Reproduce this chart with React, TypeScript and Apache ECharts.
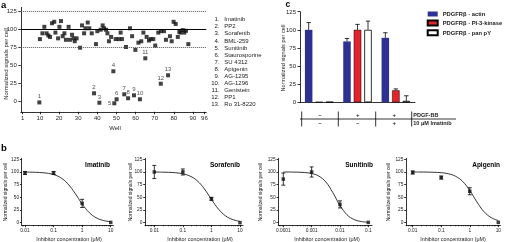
import React, { useEffect, useRef } from 'react';
import * as echarts from 'echarts';

const FONT = 'Liberation Sans, Arial, sans-serif';

// ---------- Panel a: screen ----------
const screenWells = [10, 11.3, 12.3, 13.5, 14.4, 15.3, 16.3, 17.5, 18.1, 19.5, 20.2, 21.0, 21.9, 22.8, 23.6, 25.0, 25.7, 26.8, 27.6, 28.2, 29.2, 31.0, 32.0, 33.1, 33.8, 35.0, 35.8, 37.1, 39.3, 40.0, 41.8, 42.8, 43.5, 44.6, 45.3, 46.1, 47.2, 49.6, 51.2, 52.2, 52.9, 55.0, 57.1, 58.2, 59.9, 61.5, 63.0, 64.1, 65.8, 67.0, 67.9, 69.3, 70.3, 71.9, 73.3, 74.9, 75.9, 78.0, 78.9, 79.9, 81.0, 82.1, 82.9, 83.6, 84.7, 85.5, 86.4, 87.6];
const screenValues = [86, 94, 103, 94, 91, 89, 108, 110, 95, 87, 103, 111, 90, 94, 85, 103, 85, 92, 87, 83, 87, 74, 105, 94, 101, 109, 101, 94, 79, 97, 99, 105, 101, 99, 94, 83, 89, 86, 86, 95, 86, 75, 101, 90, 71, 81, 83, 95, 89, 84, 86, 86, 77, 95, 97, 97, 85, 90, 83, 110, 107, 89, 96, 95, 98.5, 95, 97.5, 79];
const hitWells = [9.7, 38.3, 41.1, 48.4, 48.9, 50.1, 54.1, 56.1, 59.2, 62.3, 65.1, 73.2, 77.0];
const hitValues = [-2, 10.7, -2.4, 41.3, -3.2, 2.4, 9.3, 3.8, 7.9, 2.4, 59.3, 24, 35.7];
const hitLabels = ['1', '2', '3', '4', '5', '6', '7', '8', '9', '10', '11', '12', '13'];
const inhibitorNames = ['Imatinib', 'PP2', 'Sorafenib', 'BML-259', 'Sunitinib', 'Staurosporine', 'SU 4312', 'Apigenin', 'AG-1295', 'AG-1296', 'Genistein', 'PP1', 'Ro 31-8220'];
const wellTicks = [1, 10, 20, 30, 40, 50, 60, 70, 80, 90, 96];
const signalTicks = [0, 25, 50, 75, 100, 125];
const refLines = [100, 125, 75];

// ---------- Panel c: bars ----------
const conditions = ['none', 'PDGF-BB', 'PDGF-BB + Imatinib'];
const seriesNames = ['PDGFRβ - actin', 'PDGFRβ - PI-3-kinase', 'PDGFRβ - pan pY'];
const actinValues = [100, 84, 89];
const actinErr = [10, 4, 7];
const pi3kValues = [0.5, 100, 16.5];
const pi3kErr = [0, 7.5, 2];
const panPYValues = [0.5, 100, 2];
const panPYErr = [0, 12, 7];
const pdgfRow = ['–', '+', '+'];
const imatinibRow = ['–', '–', '+'];
const rowNames = ['PDGF-BB', '10 μM Imatinib'];

// ---------- Panel b: dose response ----------
const drugs = ['Imatinib', 'Sorafenib', 'Sunitinib', 'Apigenin'];
const concStd = [0.01, 0.1, 1, 10];
const concSun = [0.0001, 0.001, 0.01, 0.1];
const imaMeans = [98, 98, 38, 0.5];
const imaErr = [3, 3, 8, 0];
const sorMeans = [100, 100, 47, 0];
const sorErr = [13, 6, 3, 0];
const sunMeans = [86, 100, 36, 0.5];
const sunErr = [12, 10, 7, 0];
const apiMeans = [99, 89, 62, 0.5];
const apiErr = [3, 3, 7, 0];
const curveLogStd = [-2, -1.75, -1.5, -1.25, -1, -0.75, -0.5, -0.25, 0, 0.25, 0.5, 0.75, 1];
const curveLogSun = [-4, -3.75, -3.5, -3.25, -3, -2.75, -2.5, -2.25, -2, -1.75, -1.5, -1.25, -1];
const imaCurve = [99.8, 99.6, 99.0, 97.8, 94.9, 88.7, 76.7, 58.2, 36.9, 19.8, 9.4, 4.2, 1.8];
const sorCurve = [99.9, 99.7, 99.3, 98.5, 96.4, 91.9, 82.8, 66.9, 46.0, 26.5, 13.2, 6.0, 2.6];
const sunCurve = [100, 99.9, 99.6, 98.9, 97.0, 92.0, 80.4, 59.2, 34.0, 15.5, 6.1, 2.3, 0.8];
const apiCurve = [100, 99.9, 99.8, 99.4, 98.6, 96.5, 91.6, 81.4, 63.5, 40.9, 21.6, 9.9, 4.2];
const tickLabelsStd = ['0.01', '0.1', '1', '10'];
const tickLabelsSun = ['0.0001', '0.001', '0.01', '0.1'];

const BLACK = '#111';
const TXT = '#222';

function buildOption() {
  const axLine = { show: true, onZero: false, lineStyle: { color: '#000', width: 0.8 } };
  const noSplit = { show: false };

  const bLayout = [
    { left: 21.7, width: 91.6, min: -2.115, max: 1.09, ticks: tickLabelsStd, conc: concStd, means: imaMeans, err: imaErr, curveX: curveLogStd, curve: imaCurve, titleX: 110, yTitleX: 5, xTitleX: 69 },
    { left: 145, width: 98, min: -2.326, max: 1.105, ticks: tickLabelsStd, conc: concStd, means: sorMeans, err: sorErr, curveX: curveLogStd, curve: sorCurve, titleX: 240, yTitleX: 130, xTitleX: 200 },
    { left: 278.3, width: 93.7, min: -4.176, max: -0.87, ticks: tickLabelsSun, conc: concSun, means: sunMeans, err: sunErr, curveX: curveLogSun, curve: sunCurve, titleX: 373, yTitleX: 260, xTitleX: 327 },
    { left: 406, width: 94.5, min: -2.235, max: 1.077, ticks: tickLabelsStd, conc: concStd, means: apiMeans, err: apiErr, curveX: curveLogStd, curve: apiCurve, titleX: 500, yTitleX: 388, xTitleX: 453 },
  ];

  const grids: any[] = [
    { left: 20.8, top: 7.4, width: 185.5, height: 104.4, outerBoundsMode: 'none' },
    { left: 300, top: 11.7, width: 115, height: 90.6, outerBoundsMode: 'none' },
  ];
  bLayout.forEach((b) => grids.push({ left: b.left, top: 158.3, width: b.width, height: 66.9, outerBoundsMode: 'none' }));

  const xAxes: any[] = [
    {
      gridIndex: 0, type: 'value', min: 0, max: 97, position: 'bottom', axisLine: axLine, splitLine: noSplit,
      axisTick: { show: true, customValues: wellTicks, length: 2.5, lineStyle: { color: '#000', width: 0.8 } },
      axisLabel: { customValues: wellTicks, fontSize: 6, margin: 3, color: TXT, fontFamily: FONT },
    },
    {
      gridIndex: 1, type: 'category', data: conditions, position: 'bottom', axisLine: axLine,
      axisTick: { show: false }, axisLabel: { show: false }, splitLine: noSplit,
    },
  ];
  const yAxes: any[] = [
    {
      gridIndex: 0, type: 'value', min: -15, max: 130, axisLine: axLine, splitLine: noSplit,
      axisTick: { show: true, customValues: signalTicks, length: 2.5, lineStyle: { color: '#000', width: 0.8 } },
      axisLabel: { customValues: signalTicks, fontSize: 6, margin: 4, color: TXT, fontFamily: FONT },
    },
    {
      gridIndex: 1, type: 'value', min: 0, max: 125, interval: 25, axisLine: axLine, splitLine: noSplit,
      axisTick: { show: true, length: 2.5, lineStyle: { color: '#000', width: 0.8 } },
      axisLabel: { fontSize: 6, margin: 4, color: TXT, fontFamily: FONT },
    },
  ];

  const minorsList: number[][] = [];
  bLayout.forEach((b, i) => {
    const startDecade = Math.ceil(b.min);
    const majors = b.ticks.map((_, k) => startDecade + k);
    const minors: number[] = [];
    for (let d = Math.floor(b.min); d < b.max; d++) {
      for (let m = 2; m <= 9; m++) {
        const v = d + Math.log10(m);
        if (v > b.min && v < b.max) minors.push(v);
      }
    }
    minorsList.push(minors);
    xAxes.push({
      gridIndex: 2 + i, type: 'value', min: b.min, max: b.max, position: 'bottom', axisLine: axLine, splitLine: noSplit,
      axisTick: { show: true, customValues: majors, length: 2, lineStyle: { color: '#000', width: 0.8 } },
      axisLabel: {
        customValues: majors, fontSize: 4.8, margin: 2.5, color: TXT, fontFamily: FONT,
        formatter: (v: number) => b.ticks[Math.round(v - startDecade)] ?? '',
      },
    });
    yAxes.push({
      gridIndex: 2 + i, type: 'value', min: -5, max: 127, axisLine: axLine, splitLine: noSplit,
      axisTick: { show: true, customValues: signalTicks, length: 1.8, lineStyle: { color: '#000', width: 0.8 } },
      axisLabel: { customValues: signalTicks, fontSize: 4.8, margin: 2.6, color: TXT, fontFamily: FONT },
    });
  });
  bLayout.forEach((b, i) => {
    xAxes.push({
      gridIndex: 2 + i, type: 'value', min: b.min, max: b.max, position: 'bottom',
      axisLine: { show: false, onZero: false }, splitLine: noSplit,
      axisTick: { show: true, customValues: minorsList[i], length: 1.1, lineStyle: { color: '#000', width: 0.6 } },
      axisLabel: { show: false },
    });
  });

  const lineStyleErr = { stroke: '#000', lineWidth: 0.8 };
  const errRender = (capHalf: number) => (_p: any, api: any) => {
    const x = api.value(0), y = api.value(1), e = api.value(2);
    const lo = api.coord([x, y - e]);
    const hi = api.coord([x, y + e]);
    return {
      type: 'group',
      children: [
        { type: 'line', shape: { x1: lo[0], y1: lo[1], x2: hi[0], y2: hi[1] }, style: lineStyleErr },
        { type: 'line', shape: { x1: lo[0] - capHalf, y1: lo[1], x2: lo[0] + capHalf, y2: lo[1] }, style: lineStyleErr },
        { type: 'line', shape: { x1: hi[0] - capHalf, y1: hi[1], x2: hi[0] + capHalf, y2: hi[1] }, style: lineStyleErr },
      ],
    };
  };

  const BAR_STEP = 10.5;
  const barErrRender = (_p: any, api: any) => {
    const cat = api.value(0), y = api.value(1), e = api.value(2), k = api.value(3);
    const base = api.coord([cat, y]);
    const top = api.coord([cat, y + e]);
    const x = base[0] + (k - 1) * BAR_STEP;
    return {
      type: 'group',
      children: [
        { type: 'line', shape: { x1: x, y1: base[1], x2: x, y2: top[1] }, style: lineStyleErr },
        { type: 'line', shape: { x1: x - 2.2, y1: top[1], x2: x + 2.2, y2: top[1] }, style: lineStyleErr },
      ],
    };
  };

  const barErrData: number[][] = [];
  [actinErr, pi3kErr, panPYErr].forEach((errs, k) => {
    const vals = [actinValues, pi3kValues, panPYValues][k];
    errs.forEach((e, c) => { if (e > 0) barErrData.push([c, vals[c], e, k]); });
  });

  const series: any[] = [
    {
      type: 'scatter', xAxisIndex: 0, yAxisIndex: 0, symbol: 'rect', symbolSize: 4,
      itemStyle: { color: BLACK },
      data: screenWells.map((w, i) => [w, screenValues[i]]),
      markLine: {
        silent: true, symbol: 'none', label: { show: false },
        data: refLines.map((v) => ({
          yAxis: v,
          lineStyle: v === 100 ? { color: '#000', width: 1, type: 'solid' } : { color: '#555', width: 1, type: 'dotted' },
        })),
      },
    },
    {
      type: 'scatter', xAxisIndex: 0, yAxisIndex: 0, symbol: 'rect', symbolSize: 4,
      itemStyle: { color: BLACK },
      data: hitWells.map((w, i) => ({
        value: [w, hitValues[i]],
        label: i === 4 ? { position: 'left', distance: 1 } : undefined,
      })),
      label: {
        show: true, position: 'top', distance: 1, fontSize: 6, color: TXT, fontFamily: FONT,
        formatter: (p: any) => hitLabels[p.dataIndex],
      },
    },
    {
      name: seriesNames[0], type: 'bar', xAxisIndex: 1, yAxisIndex: 1, barWidth: 7.5, barGap: '40%',
      itemStyle: { color: '#2e3192' }, data: actinValues,
    },
    {
      name: seriesNames[1], type: 'bar', xAxisIndex: 1, yAxisIndex: 1, barWidth: 7.5, barGap: '40%',
      itemStyle: { color: '#e3242b', borderColor: '#000', borderWidth: 0.5 }, data: pi3kValues,
    },
    {
      name: seriesNames[2], type: 'bar', xAxisIndex: 1, yAxisIndex: 1, barWidth: 7.5, barGap: '40%',
      itemStyle: { color: '#ffffff', borderColor: '#000', borderWidth: 0.8 }, data: panPYValues,
    },
    {
      type: 'custom', xAxisIndex: 1, yAxisIndex: 1, renderItem: barErrRender,
      encode: { x: 0, y: 1 }, data: barErrData, z: 5,
    },
  ];

  bLayout.forEach((b, i) => {
    series.push({
      type: 'line', xAxisIndex: 2 + i, yAxisIndex: 2 + i, showSymbol: false, smooth: 0.4,
      lineStyle: { color: '#000', width: 0.8 },
      data: b.curveX.map((x, k) => [x, b.curve[k]]),
    });
    series.push({
      type: 'custom', xAxisIndex: 2 + i, yAxisIndex: 2 + i, renderItem: errRender(2),
      encode: { x: 0, y: 1 },
      data: b.conc.map((c, k) => [Math.log10(c), b.means[k], b.err[k]]).filter((d) => d[2] > 0),
    });
    series.push({
      type: 'scatter', xAxisIndex: 2 + i, yAxisIndex: 2 + i, symbol: 'rect', symbolSize: 3.5,
      itemStyle: { color: BLACK }, z: 6,
      data: b.conc.map((c, k) => [Math.log10(c), b.means[k]]),
    });
  });

  const graphics: any[] = [];
  const txt = (x: number, y: number, text: string, opts: any = {}) =>
    graphics.push({
      type: 'text', x, y, rotation: opts.rotation || 0,
      style: {
        text, fontSize: opts.fontSize || 6, fontWeight: opts.fontWeight || 'normal', fill: opts.fill || TXT,
        fontFamily: FONT, align: opts.align || 'left', verticalAlign: 'middle',
      },
    });

  // panel labels
  txt(1, 4.8, 'a', { fontSize: 9.5, fontWeight: 'bold', fill: '#000' });
  txt(1, 147.5, 'b', { fontSize: 9.5, fontWeight: 'bold', fill: '#000' });
  txt(285.5, 4.3, 'c', { fontSize: 8.5, fontWeight: 'bold', fill: '#000' });

  // panel a titles
  txt(6, 64, 'Normalized signals per cell', { rotation: Math.PI / 2, align: 'center', fontSize: 6 });
  txt(115, 128, 'Well', { align: 'center', fontSize: 6 });
  inhibitorNames.forEach((n, i) => {
    const y = 19.3 + i * 7.08;
    txt(219.5, y, `${i + 1}.`, { align: 'right', fontSize: 6 });
    txt(224.3, y, n, { fontSize: 6 });
  });

  // panel c
  txt(283, 58, 'Normalized signals per cell', { rotation: Math.PI / 2, align: 'center', fontSize: 5.6 });
  const colX = [320, 357.7, 394.3];
  pdgfRow.forEach((s, i) => txt(colX[i], 115, s, { align: 'center', fontSize: 6, fontWeight: 'bold' }));
  imatinibRow.forEach((s, i) => txt(colX[i], 123.3, s, { align: 'center', fontSize: 6, fontWeight: 'bold' }));
  txt(413.3, 115, rowNames[0], { fontSize: 5.5, fontWeight: 'bold' });
  txt(413.3, 123.3, rowNames[1], { fontSize: 5.5, fontWeight: 'bold' });
  graphics.push({ type: 'line', shape: { x1: 300, y1: 119, x2: 456, y2: 119 }, style: { stroke: '#000', lineWidth: 0.8 } });
  [301.7, 338.3, 375.7, 411.7].forEach((x) =>
    graphics.push({ type: 'line', shape: { x1: x, y1: 111.5, x2: x, y2: 126.5 }, style: { stroke: '#000', lineWidth: 0.8 } })
  );

  // panel b titles
  bLayout.forEach((b, i) => {
    txt(b.titleX, 164.5, drugs[i], { align: 'right', fontSize: 6.5, fontWeight: 'bold', fill: '#000' });
    txt(b.yTitleX, 192, 'Normalized signals per cell', { rotation: Math.PI / 2, align: 'center', fontSize: 4.9 });
    txt(b.xTitleX, 238.5, 'Inhibitor concentration (μM)', { align: 'center', fontSize: 5.4 });
  });

  return {
    animation: false,
    textStyle: { fontFamily: FONT },
    grid: grids,
    xAxis: xAxes,
    yAxis: yAxes,
    legend: {
      data: seriesNames, orient: 'vertical', left: 426.7, top: 11, icon: 'rect',
      itemWidth: 10, itemHeight: 5, itemGap: 2.6, padding: 0,
      textStyle: { fontSize: 5.8, fontWeight: 'bold', color: TXT, fontFamily: FONT, lineHeight: 5.7 },
    },
    series,
    graphic: graphics,
  };
}

export default function App() {
  const ref = useRef<HTMLDivElement>(null);
  useEffect(() => {
    document.body.style.margin = '0';
    const chart = echarts.init(ref.current!, null, { renderer: 'svg' });
    chart.setOption(buildOption() as any);
    return () => chart.dispose();
  }, []);
  return <div ref={ref} style={{ width: 505, height: 242, transform: 'translateZ(0)' }} />;
}
